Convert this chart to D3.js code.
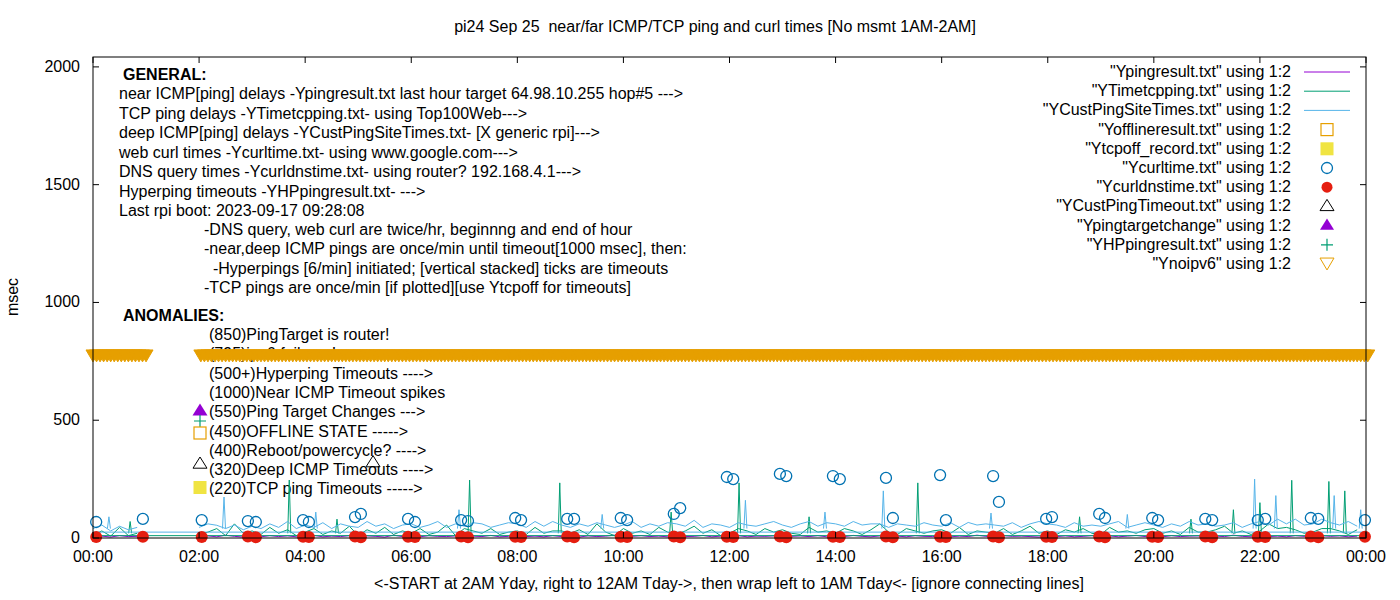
<!DOCTYPE html>
<html><head><meta charset="utf-8">
<script src="https://cdn.jsdelivr.net/npm/d3@7"></script>
<style>body{margin:0;background:#fff}text{font-family:"Liberation Sans",Arial,sans-serif;font-size:16px;fill:#000;white-space:pre}</style>
</head><body><svg id="c" width="1400" height="600"></svg>
<script>
const title = "pi24 Sep 25  near/far ICMP/TCP ping and curl times [No msmt 1AM-2AM]";
const xLabel = "<-START at 2AM Yday, right to 12AM Tday->, then wrap left to 1AM Tday<- [ignore connecting lines]";
const yLabel = "msec";
const xTickLabels = ["00:00","02:00","04:00","06:00","08:00","10:00","12:00","14:00","16:00","18:00","20:00","22:00","00:00"];
const yTicks = [0,500,1000,1500,2000];
const N = null;
const tcpVals = [12,30,8,45,10,20, N,N,N,N,N,N, 15,25,40,10,60,20, 30,15,45,20,35,10, 25,40,15,30,20,50, 10,35,20,45,15,30, 20,40,15,25,55,10, 40,30,20,40,15,25, 30,15,45,20,30,30, 20,35,15,60,25,10, 40,20,30,15,45,25, 15,30,50,20,35,10, 20,40,30,15,40,25, 35,20,15,45,25,30, 20,40,30,15,35,60, 25,15,40,30,20,30, 35,20,45,15,30,25, 20,40,15,30,50,20, 30,15,35,25,40,20, 15,45,25,30,20,35, 40,20,30,15,45,25, 25,35,50,20,30,15, 30,60,40,45,35,20, 25,40,40,30,15,35];
const custVals = [40,55,30,50,35,45, N,N,N,N,N,N, 45,60,54,40,55,35, 50,40,60,45,70,40, 55,45,65,40,60,50, 45,70,50,60,40,55, 60,45,55,70,45,60, 50,65,60,45,55,65, 60,45,70,50,70,55, 45,60,50,65,55,45, 55,70,45,60,50,65, 60,50,75,45,60,55, 45,65,55,50,60,70, 55,45,60,70,50,65, 60,50,70,55,60,60, 45,60,55,50,65,55, 50,65,45,66,55,60, 55,50,65,45,60,70, 60,55,45,65,50,55, 50,60,70,45,55,65, 55,45,60,50,70,55, 60,50,55,65,45,60, 70,55,80,60,80,55, 60,80,65,55,70,50];
const pingVals = [5,8,4,10,6,7, N,N,N,N,N,N, 6,9,5,12,7,4, 8,5,10,6,9,5, 7,11,5,8,6,10, 5,9,7,4,12,6, 8,5,10,7,6,9, 4,8,6,11,5,7, 9,6,8,5,10,6, 7,4,9,6,8,12, 5,7,10,6,8,5, 9,6,7,11,5,8, 6,10,5,8,7,9, 4,7,9,6,10,5, 8,6,11,7,5,9, 6,8,5,10,7,6, 9,5,8,6,12,7, 5,10,7,8,6,4, 8,6,9,5,7,10, 6,9,5,8,11,6, 7,5,10,6,8,9, 5,8,6,12,7,5, 9,6,8,5,10,7, 6,10,7,9,5,8];
const tcpSpikes = [[0.7,70],[3.7,246],[4.6,80],[7.1,246],[8.8,234],[10.9,110],[12.18,234],[13.5,90],[15.55,234],[18.6,90],[20.7,80],[21.5,120],[22.0,150],[22.6,245],[23.3,240],[23.6,200]];
const custSpikes = [[0.3,90],[2.47,174],[4.2,110],[6.9,120],[9.6,100],[12.3,160],[13.8,110],[14.9,200],[16.93,106],[19.5,100],[21.9,250],[22.3,180],[23.4,180],[23.9,120]];
const wrapCust = [[0,25],[24,25]];
const wrapTcp = [[0,10],[24,10]];
const curlHours = [0.06,0.94,2.05,2.92,3.07,3.96,4.07,4.94,5.05,5.94,6.07,6.94,7.07,7.96,8.07,8.94,9.07,9.95,10.07,10.95,11.07,11.95,12.07,12.95,13.07,13.95,14.08,14.95,15.08,15.97,16.08,16.97,17.08,17.97,18.08,18.97,19.08,19.97,20.08,20.97,21.1,21.96,22.1,22.96,23.1,23.98];
const curlVals = [68,81,76,72,68,76,68,89,102,81,68,76,72,85,76,81,81,85,76,102,127,259,250,272,263,263,250,255,85,267,76,263,153,81,89,102,85,85,76,81,76,76,81,85,81,76];
const dnsVals = [4,5,4,6,3,5,4,6,3,5,4,6,3,5,4,6,3,5,4,6,3,5,4,6,3,5,4,6,3,5,4,6,3,5,4,6,3,5,4,6,3,5,4,6,3,5];
const custTimeout = [[5.28,320]];
const ipv6Minutes = d3.range(0,64,4).concat(d3.range(122,1444,4));
const ipv6Val = 773;
const generalLines = ["near ICMP[ping] delays -Ypingresult.txt last hour target 64.98.10.255 hop#5 --->","TCP ping delays -YTimetcpping.txt- using Top100Web--->","deep ICMP[ping] delays -YCustPingSiteTimes.txt- [X generic rpi]--->","web curl times -Ycurltime.txt- using www.google.com--->","DNS query times -Ycurldnstime.txt- using router? 192.168.4.1--->","Hyperping timeouts -YHPpingresult.txt- --->","Last rpi boot: 2023-09-17 09:28:08"];
const noteLines = ["-DNS query, web curl are twice/hr, beginnng and end of hour","-near,deep ICMP pings are once/min until timeout[1000 msec], then:","  -Hyperpings [6/min] initiated; [vertical stacked] ticks are timeouts","-TCP pings are once/min [if plotted][use Ytcpoff for timeouts]"];
const anomalyLines = ["(850)PingTarget is router!","(795)ipv6 failures!","(500+)Hyperping Timeouts ---->","(1000)Near ICMP Timeout spikes","(550)Ping Target Changes --->","(450)OFFLINE STATE ----->","(400)Reboot/powercycle? ---->","(320)Deep ICMP Timeouts ---->","(220)TCP ping Timeouts ----->"];
const legendLabels = ['"Ypingresult.txt" using 1:2','"YTimetcpping.txt" using 1:2','"YCustPingSiteTimes.txt" using 1:2','"Yofflineresult.txt" using 1:2','"Ytcpoff_record.txt" using 1:2','"Ycurltime.txt" using 1:2','"Ycurldnstime.txt" using 1:2','"YCustPingTimeout.txt" using 1:2','"Ypingtargetchange" using 1:2','"YHPpingresult.txt" using 1:2','"Ynoipv6" using 1:2'];

const C = {ping:"#9400d3",tcp:"#009e73",cust:"#56b4e9",off:"#e69f00",tcpoff:"#f0e442",curl:"#0072b2",dns:"#e51e10"};
const svg = d3.select("#c");
const L=93,R=1366,T=57,B=538;
const x = d3.scaleLinear().domain([0,24]).range([L,R]);
const y = d3.scaleLinear().domain([0,2042]).range([B,T]);
const tg = svg.append("g");
const g = svg.append("g");
const hrs = tcpVals.map((d,i)=>i/6);
const line = d3.line().defined(d=>d[1]!==null).x(d=>x(d[0])).y(d=>y(d[1]));
const plain = d3.line().x(d=>x(d[0])).y(d=>y(d[1]));
const spike = (s,base)=>`M${x(s[0])-1.5},${y(base)}L${x(s[0])},${y(s[1])}L${x(s[0])+1.5},${y(base)}`;
g.append("path").attr("d",line(hrs.map((h,i)=>[h,pingVals[i]]))).attr("stroke",C.ping).attr("fill","none");
g.append("path").attr("d",plain(wrapTcp)).attr("stroke",C.tcp).attr("fill","none");
g.append("path").attr("d",line(hrs.map((h,i)=>[h,tcpVals[i]]))).attr("stroke",C.tcp).attr("fill","none");
g.selectAll(".ts").data(tcpSpikes).join("path").attr("d",s=>spike(s,20)).attr("stroke",C.tcp).attr("fill","none");
g.append("path").attr("d",plain(wrapCust)).attr("stroke",C.cust).attr("fill","none");
g.append("path").attr("d",line(hrs.map((h,i)=>[h,custVals[i]]))).attr("stroke",C.cust).attr("fill","none");
g.selectAll(".cs").data(custSpikes).join("path").attr("d",s=>spike(s,40)).attr("stroke",C.cust).attr("fill","none");
tg.append("text").attr("x",123).attr("y",80).attr("font-weight","bold").text("GENERAL:");
generalLines.forEach((t,i)=>tg.append("text").attr("x",119).attr("y",99+i*19.5).text(t));
noteLines.forEach((t,i)=>tg.append("text").attr("x",204).attr("y",235+i*19.3).text(t));
tg.append("text").attr("x",123).attr("y",321).attr("font-weight","bold").text("ANOMALIES:");
anomalyLines.forEach((t,i)=>tg.append("text").attr("x",209).attr("y",340+i*19.3).text(t));
const tri = (cx,cy,s,down)=> down?`M${cx-s},${cy-s*0.85}L${cx+s},${cy-s*0.85}L${cx},${cy+s*0.85}Z`:`M${cx-s},${cy+s*0.6}L${cx+s},${cy+s*0.6}L${cx},${cy-s*1.0}Z`;
g.selectAll(".v6").data(ipv6Minutes).join("path").attr("d",m=>tri(x(m/60),y(ipv6Val),7,true)).attr("fill",C.off).attr("stroke",C.off);
g.selectAll(".dns").data(curlHours).join("circle").attr("cx",h=>x(h)).attr("cy",(h,i)=>y(dnsVals[i])).attr("r",6).attr("fill",C.dns);
g.selectAll(".curl").data(curlHours).join("circle").attr("cx",h=>x(h)).attr("cy",(h,i)=>y(curlVals[i])).attr("r",5.5).attr("fill","none").attr("stroke",C.curl).attr("stroke-width",1.3);
custTimeout.forEach(d=>g.append("path").attr("d",tri(x(d[0]),y(d[1]),7,false)).attr("fill","none").attr("stroke","#000"));
const mk=svg.append("g");
mk.append("path").attr("d",tri(200,411,7.5,false)).attr("fill",C.ping);
mk.append("path").attr("d","M194,421H206M200,415V427").attr("stroke",C.tcp).attr("stroke-width",1.2);
mk.append("rect").attr("x",194).attr("y",427).attr("width",12).attr("height",12).attr("fill","none").attr("stroke",C.off).attr("stroke-width",1.2);
mk.append("path").attr("d",tri(200,464,7,false)).attr("fill","none").attr("stroke","#000");
mk.append("rect").attr("x",193.5).attr("y",481).attr("width",13).attr("height",13).attr("fill",C.tcpoff);
svg.append("rect").attr("x",L).attr("y",T).attr("width",R-L).attr("height",B-T).attr("fill","none").attr("stroke","#000");
xTickLabels.forEach((t,i)=>{const px=x(i*2);
 svg.append("path").attr("d",`M${px},${B}v-6M${px},${T}v6`).attr("stroke","#000");
 svg.append("text").attr("x",px).attr("y",562).attr("text-anchor","middle").text(t);});
yTicks.forEach(v=>{const py=y(v);
 svg.append("path").attr("d",`M${L},${py}h6M${R},${py}h-6`).attr("stroke","#000");
 svg.append("text").attr("x",80).attr("y",py+5).attr("text-anchor","end").text(v);});
svg.append("text").attr("x",715).attr("y",32).attr("text-anchor","middle").text(title);
svg.append("text").attr("x",729).attr("y",589).attr("text-anchor","middle").text(xLabel);
svg.append("text").attr("transform","translate(18,297) rotate(-90)").attr("text-anchor","middle").text(yLabel);
legendLabels.forEach((t,i)=>{const ly=72+i*19.2;
 svg.append("text").attr("x",1291).attr("y",ly+5).attr("text-anchor","end").text(t);
 const cx=1327;
 if(i<3) svg.append("path").attr("d",`M1304,${ly}H1350`).attr("stroke",[C.ping,C.tcp,C.cust][i]);
 else if(i==3) svg.append("rect").attr("x",cx-6).attr("y",ly-6).attr("width",12).attr("height",12).attr("fill","none").attr("stroke",C.off).attr("stroke-width",1.2);
 else if(i==4) svg.append("rect").attr("x",cx-6.5).attr("y",ly-6.5).attr("width",13).attr("height",13).attr("fill",C.tcpoff);
 else if(i==5) svg.append("circle").attr("cx",cx).attr("cy",ly).attr("r",5.5).attr("fill","none").attr("stroke",C.curl).attr("stroke-width",1.3);
 else if(i==6) svg.append("circle").attr("cx",cx).attr("cy",ly).attr("r",5.5).attr("fill",C.dns);
 else if(i==7) svg.append("path").attr("d",tri(cx,ly,7,false)).attr("fill","none").attr("stroke","#000");
 else if(i==8) svg.append("path").attr("d",tri(cx,ly,7,false)).attr("fill",C.ping);
 else if(i==9) svg.append("path").attr("d",`M${cx-6},${ly}H${cx+6}M${cx},${ly-6}V${ly+6}`).attr("stroke",C.tcp).attr("stroke-width",1.2);
 else svg.append("path").attr("d",tri(cx,ly,7,true)).attr("fill","none").attr("stroke",C.off);
});
</script></body></html>
